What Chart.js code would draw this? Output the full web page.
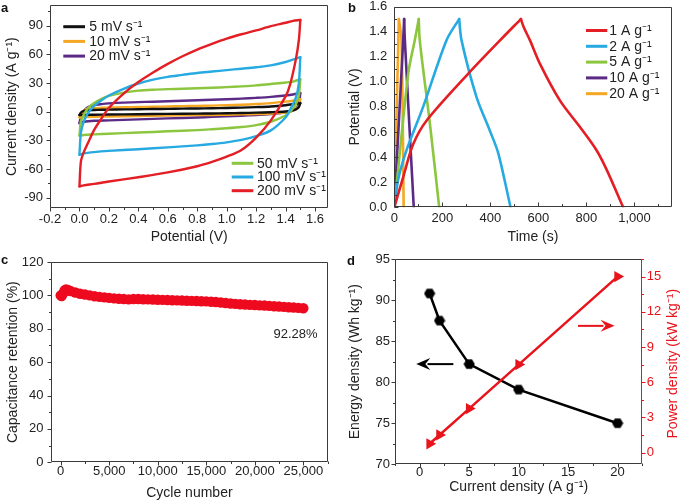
<!DOCTYPE html>
<html><head><meta charset="utf-8">
<script src="https://cdn.jsdelivr.net/npm/chart.js@4.4.1/dist/chart.umd.min.js"></script>
<style>
html,body{margin:0;padding:0;background:#fff;}
body{width:685px;height:502px;position:relative;overflow:hidden;font-family:'Liberation Sans',Arial,sans-serif;}
canvas{position:absolute;}
.lab{position:absolute;font:bold 13px 'Liberation Sans',Arial,sans-serif;line-height:13px;color:#111;}
</style></head><body>
<canvas id="ca" width="342" height="250" style="left:0;top:0"></canvas>
<canvas id="cb" width="343" height="250" style="left:342px;top:0"></canvas>
<canvas id="cc" width="342" height="252" style="left:0;top:250px"></canvas>
<canvas id="cd" width="343" height="252" style="left:342px;top:250px"></canvas>
<div class="lab" style="left:1px;top:1px">a</div>
<div class="lab" style="left:348px;top:1px">b</div>
<div class="lab" style="left:1px;top:253px">c</div>
<div class="lab" style="left:347px;top:254px">d</div>
<script>
const FONT = "'Liberation Sans', Arial, sans-serif";
const INK = '#222';
const AXIS = '#3a3a3a';

// ---------- Panel a : CV curves ----------
const cvScanLabels = ['5 mV s⁻¹', '10 mV s⁻¹', '20 mV s⁻¹', '50 mV s⁻¹', '100 mV s⁻¹', '200 mV s⁻¹'];
const cvColors = ['#111111', '#f5a623', '#5b2a86', '#8cc63f', '#27aae1', '#e31e24'];
const cvFwdPotential = [0, 0.01, 0.03, 0.06, 0.1, 0.15, 0.2, 0.3, 0.4, 0.5, 0.6, 0.7, 0.8, 0.9, 1.0, 1.1, 1.2, 1.3, 1.4, 1.45, 1.5];
const cvRevPotential = [1.5, 1.49, 1.47, 1.43, 1.4, 1.3, 1.2, 1.1, 1.0, 0.9, 0.8, 0.6, 0.4, 0.2, 0.1, 0.03, 0];
const cvFwd5   = [-3.5, -1, 0.8, 1.5, 1.8, 2, 2.2, 2.4, 2.6, 2.8, 3, 3.2, 3.4, 3.6, 3.9, 4.3, 4.8, 5.5, 6.8, 7.8, 9];
const cvRev5   = [9, 5, 2.5, 0.8, 0.2, -0.5, -1, -1.3, -1.6, -1.8, -2, -2.3, -2.6, -2.9, -3.1, -3.3, -3.5];
const cvFwd10  = [-6, -2.5, 1.5, 3.2, 3.8, 4.1, 4.3, 4.6, 4.9, 5.2, 5.5, 5.8, 6.1, 6.4, 6.8, 7.3, 8, 9, 10.5, 11.5, 13];
const cvRev10  = [13, 6, 2.5, 0, -0.8, -1.8, -2.4, -2.8, -3.1, -3.4, -3.6, -4, -4.5, -5, -5.3, -5.6, -6];
const cvFwd20  = [-12, -5, 1, 5, 7, 8, 8.7, 9.5, 10, 10.5, 11, 11.5, 12, 12.5, 13, 13.7, 14.5, 15.5, 17, 18, 19.5];
const cvRev20  = [19.5, 8, 3, 0, -1, -2.5, -3.5, -4.2, -4.8, -5.4, -6, -7, -8, -9, -9.5, -10.5, -12];
const cvFwd50  = [-25, -10, -3, 4, 9, 13.5, 16.5, 20, 22, 23, 23.6, 24, 24.5, 25, 25.7, 26.5, 27.5, 29, 30.5, 31.5, 34];
const cvRev50  = [34, 17, 8, 0, -4, -10.5, -14, -16, -17.3, -18.3, -19.2, -20.5, -21.8, -23, -23.7, -24.3, -25];
const cvFwd100 = [-45, -22, -10, -1, 6, 12, 17, 24, 29.5, 33.5, 36.5, 38.5, 40.5, 42, 43.5, 45, 46.5, 48.5, 52, 54.5, 57];
const cvRev100 = [57, 30, 15, 2, -6, -19.5, -25.5, -29.5, -32, -33.8, -35.2, -37.3, -39.2, -41, -42.2, -43.5, -45];
const cvFwd200 = [-78, -52, -42, -32, -19, -7, 4, 19, 31, 41, 50, 58, 65, 71, 76.5, 81, 85, 89.5, 93, 95, 96];
const cvRev200 = [96, 75, 55, 28, 16, -9, -27, -40, -47, -52.5, -57, -63.5, -68.5, -73, -75.5, -77, -78];
const aXTickLabels = [-0.2, 0, 0.2, 0.4, 0.6, 0.8, 1.0, 1.2, 1.4, 1.6];
const aYTickLabels = [-90, -60, -30, 0, 30, 60, 90];

// ---------- Panel b : GCD curves ----------
const gcdLabels = ['1 A g⁻¹', '2 A g⁻¹', '5 A g⁻¹', '10 A g⁻¹', '20 A g⁻¹'];
const gcdColors = ['#e31e24', '#27aae1', '#8cc63f', '#5b2a86', '#f5a623'];
const gcdTime1  = [0, 37, 78, 134, 308, 440, 527, 540, 565, 606, 690, 773, 842, 884, 953];
const gcdPot1   = [0, 0.24, 0.5, 0.69, 1.065, 1.33, 1.5, 1.43, 1.33, 1.145, 0.85, 0.64, 0.455, 0.30, 0];
const gcdTime2  = [0, 16, 51, 120, 217, 270, 280, 342, 398, 433, 484];
const gcdPot2   = [0, 0.22, 0.455, 0.8, 1.33, 1.5, 1.33, 0.88, 0.61, 0.43, 0];
const gcdTime5  = [0, 58, 85, 102, 106, 148, 187];
const gcdPot5   = [0, 1.065, 1.33, 1.5, 1.33, 0.67, 0];
const gcdTime10 = [0, 37, 41, 44, 81];
const gcdPot10  = [0, 1.33, 1.5, 1.33, 0];
const gcdTime20 = [0, 19, 30, 39];
const gcdPot20  = [0, 1.5, 1.33, 0];
const bXTickLabels = [0, 200, 400, 600, 800, 1000];
const bYTickLabels = [0, 0.2, 0.4, 0.6, 0.8, 1.0, 1.2, 1.4, 1.6];

// ---------- Panel c : cycling ----------
const cycleNumber = [0, 100, 250, 400, 550, 750, 1000, 1500, 2000, 2500, 3000, 3500, 4000, 4500, 5000, 5500, 6000, 6500, 7000, 7500,
  8000, 8500, 9000, 9500, 10000, 10500, 11000, 11500, 12000, 12500, 13000, 13500, 14000, 14500, 15000, 15500, 16000, 16500,
  17000, 17500, 18000, 18500, 19000, 19500, 20000, 20500, 21000, 21500, 22000, 22500, 23000, 23500, 24000, 24500, 25000];
const retention = [100, 99.6, 101.2, 103, 103.6, 103.2, 102.6, 101.7, 101.0, 100.5, 100.0, 99.5, 99.1, 98.8, 98.5, 98.2, 98.0, 97.8, 97.6, 97.8,
  97.8, 97.7, 97.6, 97.5, 97.4, 97.3, 97.2, 97.1, 97.0, 96.9, 96.8, 96.7, 96.6, 96.5, 96.4, 96.2, 96.0, 95.7,
  95.4, 95.1, 94.9, 94.7, 94.5, 94.3, 94.2, 94.0, 93.9, 93.7, 93.5, 93.3, 93.1, 92.9, 92.7, 92.5, 92.28];
const cXTickLabels = [0, 5000, 10000, 15000, 20000, 25000];
const cYTickLabels = [0, 20, 40, 60, 80, 100, 120];
const retentionNote = '92.28%';

// ---------- Panel d : energy / power ----------
const currentDensity = [1, 2, 5, 10, 20];
const energyDensity  = [90.8, 87.5, 82.2, 79.1, 75.0];
const powerDensity   = [0.75, 1.5, 3.75, 7.5, 15];
const dXTickLabels = [0, 5, 10, 15, 20];
const dYTickLabels = [70, 75, 80, 85, 90, 95];
const dY2TickLabels = [0, 3, 6, 9, 12, 15];

// ---------- helpers ----------
function range(lo, hi, step) {
  const out = []; const n = Math.round((hi - lo) / step);
  for (let i = 0; i <= n; i++) out.push(+(lo + i * step).toFixed(6));
  return out;
}
function isMajor(v, majors) { return majors.some(m => Math.abs(m - v) < 1e-6); }
function mkScale(o) {
  const horiz = o.pos === 'bottom';
  return {
    type: 'linear', position: o.pos, min: o.min, max: o.max,
    grid: { display: false, drawTicks: false },
    border: { display: false },
    ticks: {
      color: o.color || INK, font: { family: FONT, size: 13 }, padding: o.pad,
      autoSkip: false, maxRotation: 0, minRotation: 0,
      callback: v => isMajor(v, o.majors) ? o.fmt(v) : ''
    },
    title: o.title ? { display: true, text: o.title, color: o.color || INK, font: { family: FONT, size: 14 },
      padding: horiz ? { top: 0, bottom: o.titlePad } : { top: o.titlePad, bottom: 0 } } : { display: false },
    afterBuildTicks: s => { s.ticks = o.ticks.map(v => ({ value: v })); },
    afterFit: s => {
      if (horiz) { s.height = o.size; s.paddingLeft = 0; s.paddingRight = 0; }
      else { s.width = o.size; s.paddingTop = 0; s.paddingBottom = 0; }
    }
  };
}
const frameTicks = {
  id: 'frameTicks',
  afterDraw(chart, args, opts) {
    const { ctx, chartArea: ca } = chart;
    const dir = opts.inward ? -1 : 1;
    const L = Math.round(ca.left) + 0.5, R = Math.round(ca.right) - 0.5;
    const T = Math.round(ca.top) + 0.5, B = Math.round(ca.bottom) - 0.5;
    ctx.save();
    ctx.lineWidth = 1;
    for (const s of Object.values(chart.scales)) {
      ctx.strokeStyle = (opts.colors && opts.colors[s.id]) || AXIS;
      for (const t of s.ticks) {
        const len = (t.label !== '' ? 4 : 2.5) * dir;
        const p = Math.round(s.getPixelForValue(t.value)) + 0.5;
        ctx.beginPath();
        if (s.position === 'bottom') { ctx.moveTo(p, B); ctx.lineTo(p, B + len); }
        else if (s.position === 'left') { ctx.moveTo(L, p); ctx.lineTo(L - len, p); }
        else if (s.position === 'right') { ctx.moveTo(R, p); ctx.lineTo(R + len, p); }
        ctx.stroke();
      }
    }
    const side = (c, x1, y1, x2, y2) => { ctx.strokeStyle = c; ctx.beginPath(); ctx.moveTo(x1, y1); ctx.lineTo(x2, y2); ctx.stroke(); };
    const fc = opts.frame || {};
    side(fc.top || AXIS, L, T, R, T);
    side(fc.bottom || AXIS, L, B, R, B);
    side(fc.left || AXIS, L, T, L, B);
    side(fc.right || AXIS, R, T, R, B);
    ctx.restore();
  }
};
function drawLegendRows(ctx, x0, x1, tx, rows) {
  ctx.save();
  ctx.font = '14px ' + FONT; ctx.textBaseline = 'middle'; ctx.fillStyle = INK; ctx.lineWidth = 3;
  rows.forEach(r => {
    ctx.strokeStyle = r.color; ctx.beginPath(); ctx.moveTo(x0, r.y); ctx.lineTo(x1, r.y); ctx.stroke();
    ctx.fillText(r.text, tx, r.y + 0.5);
  });
  ctx.restore();
}
const baseOpts = { responsive: false, animation: false, devicePixelRatio: 1,
  plugins: { legend: { display: false }, tooltip: { enabled: false } } };
const fmt1 = v => v.toFixed(1);
const fmtInt = v => String(v);
const fmtComma = v => v.toLocaleString('en-US');

// ---------- Chart a ----------
const cvSeries = [[cvFwd5, cvRev5], [cvFwd10, cvRev10], [cvFwd20, cvRev20], [cvFwd50, cvRev50], [cvFwd100, cvRev100], [cvFwd200, cvRev200]];
const cvOrder = [4, 5, 6, 3, 2, 1];
const cvDatasets = [];
cvSeries.forEach((s, i) => {
  const common = { label: cvScanLabels[i], showLine: true, pointRadius: 0, borderColor: cvColors[i],
    borderWidth: 2.4, tension: 0.3, order: cvOrder[i], fill: false, borderCapStyle: 'round', borderJoinStyle: 'round' };
  cvDatasets.push({ ...common, data: cvFwdPotential.map((v, k) => ({ x: v, y: s[0][k] })) });
  cvDatasets.push({ ...common, data: cvRevPotential.map((v, k) => ({ x: v, y: s[1][k] })) });
});
new Chart(document.getElementById('ca'), {
  type: 'scatter',
  data: { datasets: cvDatasets },
  options: { ...baseOpts,
    layout: { autoPadding: false, padding: { left: 0, top: 5, right: 13.7, bottom: 0 } },
    scales: {
      x: mkScale({ pos: 'bottom', min: -0.2, max: 1.69, ticks: range(-0.2, 1.6, 0.1), majors: aXTickLabels, fmt: fmt1,
        size: 41.7, pad: 3, title: 'Potential (V)', titlePad: 4.3 }),
      y: mkScale({ pos: 'left', min: -101, max: 111.6, ticks: range(-90, 105, 15), majors: aYTickLabels, fmt: fmtInt,
        size: 50, pad: 7, title: 'Current density (A g⁻¹)', titlePad: 3.5 })
    },
    plugins: { ...baseOpts.plugins, frameTicks: { inward: false } }
  },
  plugins: [frameTicks, { id: 'cvLegend', afterDraw(chart) {
    const ca = chart.chartArea, ctx = chart.ctx;
    drawLegendRows(ctx, ca.left + 13.3, ca.left + 35, ca.left + 39.3, [0, 1, 2].map((i, k) =>
      ({ color: cvColors[i], text: cvScanLabels[i], y: ca.top + 21.7 + k * 14.7 })));
    drawLegendRows(ctx, ca.left + 181.7, ca.left + 203.3, ca.left + 207, [3, 4, 5].map((i, k) =>
      ({ color: cvColors[i], text: cvScanLabels[i], y: ca.top + 158.3 + k * 13.7 })));
  } }]
});

// ---------- Chart b ----------
const gcdSeries = [[gcdTime1, gcdPot1], [gcdTime2, gcdPot2], [gcdTime5, gcdPot5], [gcdTime10, gcdPot10], [gcdTime20, gcdPot20]];
const gcdDatasets = [];
gcdSeries.forEach((s, i) => {
  const pts = s[0].map((t, k) => ({ x: t, y: s[1][k] }));
  const peak = s[1].indexOf(Math.max(...s[1]));
  const common = { label: gcdLabels[i], showLine: true, pointRadius: 0, borderColor: gcdColors[i],
    borderWidth: 2.6, tension: 0.3, order: i + 1, fill: false, borderCapStyle: 'round', borderJoinStyle: 'round' };
  gcdDatasets.push({ ...common, data: pts.slice(0, peak + 1) });
  gcdDatasets.push({ ...common, data: pts.slice(peak) });
});
new Chart(document.getElementById('cb'), {
  type: 'scatter',
  data: { datasets: gcdDatasets },
  options: { ...baseOpts,
    layout: { autoPadding: false, padding: { left: 0, top: 6.5, right: 13.3, bottom: 0 } },
    scales: {
      x: mkScale({ pos: 'bottom', min: 0, max: 1155, ticks: range(0, 1100, 100), majors: bXTickLabels, fmt: fmtComma,
        size: 42.7, pad: 3.5, title: 'Time (s)', titlePad: 4.3 }),
      y: mkScale({ pos: 'left', min: 0, max: 1.6, ticks: range(0, 1.6, 0.1), majors: bYTickLabels, fmt: fmt1,
        size: 52.3, pad: 7, title: 'Potential (V)', titlePad: 4.6 })
    },
    plugins: { ...baseOpts.plugins, frameTicks: { inward: true } }
  },
  plugins: [frameTicks, { id: 'gcdLegend', afterDraw(chart) {
    const ca = chart.chartArea;
    drawLegendRows(chart.ctx, ca.left + 191.7, ca.left + 213, ca.left + 215, gcdLabels.map((t, k) =>
      ({ color: gcdColors[k], text: t, y: ca.top + 24 + k * 15.8 })));
  } }]
});

// ---------- Chart c ----------
new Chart(document.getElementById('cc'), {
  type: 'scatter',
  data: { datasets: [{ label: 'Capacitance retention', data: cycleNumber.map((c, i) => ({ x: c, y: retention[i] })),
    pointRadius: 5.2, pointBackgroundColor: '#ee0a1e', pointBorderWidth: 0, borderColor: '#ee0a1e', showLine: false }] },
  options: { ...baseOpts,
    layout: { autoPadding: false, padding: { left: 0, top: 12, right: 13.7, bottom: 0 } },
    scales: {
      x: mkScale({ pos: 'bottom', min: -1050, max: 27576, ticks: range(0, 27500, 2500), majors: cXTickLabels, fmt: fmtComma,
        size: 39.7, pad: 1, title: 'Cycle number', titlePad: 0.5 }),
      y: mkScale({ pos: 'left', min: 0, max: 120, ticks: range(0, 120, 10), majors: cYTickLabels, fmt: fmtInt,
        size: 50.5, pad: 7, title: 'Capacitance retention (%)', titlePad: 4.9 })
    },
    plugins: { ...baseOpts.plugins, frameTicks: { inward: false } }
  },
  plugins: [frameTicks, { id: 'note', afterDraw(chart) {
    const ctx = chart.ctx, sx = chart.scales.x, sy = chart.scales.y;
    ctx.save(); ctx.font = '13px ' + FONT; ctx.fillStyle = INK; ctx.textAlign = 'center'; ctx.textBaseline = 'middle';
    ctx.fillText(retentionNote, sx.getPixelForValue(24200), sy.getPixelForValue(76.4));
    ctx.restore();
  } }]
});

// ---------- Chart d ----------
const hex = document.createElement('canvas');
hex.width = 12; hex.height = 12;
(() => { const g = hex.getContext('2d'); g.fillStyle = '#000'; g.beginPath();
  for (let k = 0; k < 6; k++) { const a = Math.PI / 3 * k; const px = 6 + 5.6 * Math.cos(a), py = 6 + 5.6 * Math.sin(a);
    k ? g.lineTo(px, py) : g.moveTo(px, py); }
  g.closePath(); g.fill(); })();
const RED = '#e8141c';
function arrow(ctx, x1, y1, x2, y2, color) {
  const ang = Math.atan2(y2 - y1, x2 - x1), hl = 14, hw = 6;
  ctx.save(); ctx.strokeStyle = color; ctx.fillStyle = color; ctx.lineWidth = 2;
  ctx.beginPath(); ctx.moveTo(x1, y1); ctx.lineTo(x2 - hl * 0.8 * Math.cos(ang), y2 - hl * 0.8 * Math.sin(ang)); ctx.stroke();
  ctx.beginPath(); ctx.moveTo(x2, y2);
  ctx.lineTo(x2 - hl * Math.cos(ang) + hw * Math.sin(ang), y2 - hl * Math.sin(ang) - hw * Math.cos(ang));
  ctx.lineTo(x2 - hl * 0.65 * Math.cos(ang), y2 - hl * 0.65 * Math.sin(ang));
  ctx.lineTo(x2 - hl * Math.cos(ang) - hw * Math.sin(ang), y2 - hl * Math.sin(ang) + hw * Math.cos(ang));
  ctx.closePath(); ctx.fill(); ctx.restore();
}
new Chart(document.getElementById('cd'), {
  type: 'scatter',
  data: { datasets: [
    { label: 'Power density', yAxisID: 'y2', data: currentDensity.map((c, i) => ({ x: c, y: powerDensity[i] })),
      showLine: true, borderColor: RED, borderWidth: 2.5, pointStyle: 'triangle', rotation: 90, pointRadius: 6.5,
      pointBackgroundColor: RED, pointBorderColor: RED, pointBorderWidth: 0, order: 1 },
    { label: 'Energy density', yAxisID: 'y', data: currentDensity.map((c, i) => ({ x: c, y: energyDensity[i] })),
      showLine: true, borderColor: '#000', borderWidth: 2.5, pointStyle: hex, pointRadius: 6, order: 2 }
  ] },
  options: { ...baseOpts,
    layout: { autoPadding: false, padding: { left: 0, top: 9, right: 0, bottom: 0 } },
    scales: {
      x: mkScale({ pos: 'bottom', min: -2.5, max: 22.5, ticks: range(-2.5, 22.5, 2.5), majors: dXTickLabels, fmt: fmtInt,
        size: 37.7, pad: 0, title: 'Current density (A g⁻¹)', titlePad: 6.3 }),
      y: mkScale({ pos: 'left', min: 70, max: 95, ticks: range(70, 95, 2.5), majors: dYTickLabels, fmt: fmtInt,
        size: 53, pad: 5, title: 'Energy density (Wh kg⁻¹)', titlePad: 4.6 }),
      y2: mkScale({ pos: 'right', min: -1, max: 16.5, ticks: range(0, 16.5, 1.5), majors: dY2TickLabels, fmt: fmtInt,
        size: 42.7, pad: 4.4, color: RED })
    },
    plugins: { ...baseOpts.plugins, frameTicks: { inward: false, colors: { y2: RED }, frame: { right: RED } } }
  },
  plugins: [frameTicks, { id: 'arrowsTitle', afterDraw(chart) {
    const ctx = chart.ctx, sx = chart.scales.x, sy = chart.scales.y, s2 = chart.scales.y2, ca = chart.chartArea;
    arrow(ctx, sx.getPixelForValue(3.4), sy.getPixelForValue(82.2), sx.getPixelForValue(-0.35), sy.getPixelForValue(82.2), '#000');
    arrow(ctx, sx.getPixelForValue(16), s2.getPixelForValue(10.8), sx.getPixelForValue(19.7), s2.getPixelForValue(10.8), RED);
    ctx.save(); ctx.font = '14px ' + FONT; ctx.fillStyle = RED; ctx.textAlign = 'center'; ctx.textBaseline = 'middle';
    ctx.translate(ca.right + 31, (ca.top + ca.bottom) / 2 + 2); ctx.rotate(-Math.PI / 2);
    ctx.fillText('Power density (kW kg⁻¹)', 0, 0); ctx.restore();
  } }]
});
</script>
</body></html>
